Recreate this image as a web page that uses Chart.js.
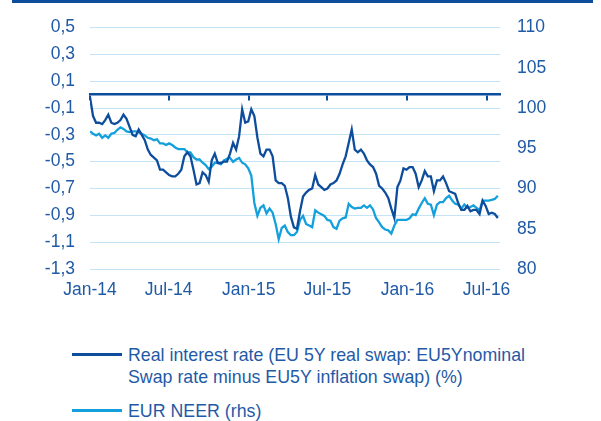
<!DOCTYPE html>
<html>
<head>
<meta charset="utf-8">
<script src="https://cdn.jsdelivr.net/npm/chart.js@4.4.1/dist/chart.umd.min.js"></script>
<style>
  body { margin: 0; background: #fff; width: 601px; height: 421px; position: relative; overflow: hidden; }
  #topline { position: absolute; left: 12px; top: 0; width: 581px; height: 2.5px; background: #0e4d9c; }
  #chart-01 { position: absolute; left: 0; top: 0; }
  .leg { position: absolute; left: 72px; font: 17.8px "Liberation Sans", Arial, sans-serif; line-height: 22px; color: #1f5aa6; white-space: pre-line; }
  .leg span.swatch { position: absolute; left: 0; top: 9.5px; width: 50px; height: 2.5px; }
  .leg span.txt { display: block; margin-left: 56px; }
</style>
</head>
<body>
<div id="topline"></div>
<canvas id="chart-01" width="601" height="310"></canvas>
<div id="legend"></div>
<script>
// weekly observations, first one = 1 Jan 2014 (x is days since then)
const realRate = [
  -0.02, -0.16, -0.21, -0.21, -0.22, -0.19, -0.15, -0.21, -0.22, -0.21,
  -0.19, -0.15, -0.18, -0.24, -0.30, -0.31, -0.26, -0.30, -0.34, -0.41,
  -0.45, -0.47, -0.49, -0.56, -0.56, -0.58, -0.60, -0.61, -0.61, -0.59,
  -0.56, -0.46, -0.43, -0.46, -0.56, -0.67, -0.66, -0.58, -0.60, -0.65,
  -0.49, -0.44, -0.51, -0.51, -0.50, -0.50, -0.44, -0.36, -0.41, -0.31,
  -0.11, -0.21, -0.20, -0.11, -0.16, -0.32, -0.44, -0.46, -0.41, -0.41,
  -0.46, -0.64, -0.66, -0.66, -0.68, -0.77, -0.91, -0.99, -1.00, -0.87,
  -0.76, -0.73, -0.71, -0.70, -0.60, -0.67, -0.69, -0.71, -0.70, -0.67,
  -0.66, -0.64, -0.59, -0.52, -0.46, -0.36, -0.26, -0.41, -0.43, -0.41,
  -0.44, -0.49, -0.52, -0.54, -0.59, -0.68, -0.70, -0.73, -0.77, -0.85,
  -0.92, -0.69, -0.64, -0.55, -0.56, -0.54, -0.54, -0.59, -0.69, -0.64,
  -0.57, -0.61, -0.61, -0.72, -0.64, -0.64, -0.61, -0.66, -0.72, -0.73,
  -0.74, -0.81, -0.86, -0.86, -0.83, -0.87, -0.86, -0.86, -0.89, -0.79,
  -0.83, -0.89, -0.88, -0.89, -0.92
];

const neer = [
  97.1, 96.8, 96.6, 96.8, 96.3, 96.6, 96.3, 96.8, 96.9, 97.3,
  97.6, 97.4, 97.1, 97.0, 97.1, 97.1, 97.0, 96.8, 96.6, 96.3,
  96.2, 96.0, 96.1, 95.6, 95.6, 95.4, 95.6, 95.4, 95.1, 94.9,
  94.9, 94.9, 94.5, 94.5, 93.9, 93.6, 93.6, 93.2, 92.9, 92.4,
  92.7, 93.2, 93.2, 93.0, 93.5, 93.7, 93.8, 93.3, 93.6, 93.8,
  93.2, 93.0, 92.5, 91.6, 88.2, 86.6, 87.6, 87.9, 86.9, 87.5,
  87.0, 85.6, 83.7, 85.1, 85.4, 84.6, 84.2, 84.2, 84.6, 86.1,
  86.6, 85.6, 85.4, 85.2, 87.3, 87.0, 86.8, 86.6, 86.1, 86.0,
  85.2, 85.0, 86.0, 86.3, 86.4, 88.1, 87.7, 87.5, 87.6, 87.6,
  87.9, 87.6, 87.9, 87.4, 86.3, 85.8, 85.2, 84.9, 84.8, 84.4,
  85.4, 86.1, 86.1, 86.1, 86.1, 86.3, 86.8, 86.7, 87.5, 88.2,
  88.8, 88.1, 88.0, 86.7, 88.0, 88.3, 88.3, 88.8, 89.1, 88.5,
  88.1, 88.0, 87.5, 88.0, 87.6, 87.7, 87.9, 87.6, 87.3, 88.5,
  88.5, 88.5, 88.6, 88.7, 89.1
];

// x-axis ticks (days since 1 Jan 2014)
const tickDays = [0, 181, 365, 546, 730, 912];
const tickLabels = ['Jan-14', 'Jul-14', 'Jan-15', 'Jul-15', 'Jan-16', 'Jul-16'];
const lastDay = 943;

const darkBlue = '#0e4d9c';
const lightBlue = '#13a0dc';
const textBlue = '#1f5aa6';
const gridBlue = '#c4e3f4';
const font = { family: '"Liberation Sans", Arial, sans-serif', size: 17.5 };

const toPoints = arr => arr.map((v, i) => ({ x: i * 7, y: v }));
const setTicks = scale => { scale.ticks = tickDays.map(v => ({ value: v })); };

const ctx = document.getElementById('chart-01').getContext('2d');

const chart_01 = new Chart(ctx, {
    type: 'line',
    data: {
        datasets: [{
            label: 'Real interest rate (EU 5Y real swap: EU5Ynominal\nSwap rate minus EU5Y inflation swap) (%)',
            data: toPoints(realRate),
            yAxisID: 'y',
            borderColor: darkBlue,
            borderWidth: 2.3,
            pointRadius: 0,
            tension: 0
        },
        {
            label: 'EUR NEER (rhs)',
            data: toPoints(neer),
            yAxisID: 'y1',
            borderColor: lightBlue,
            borderWidth: 2.3,
            pointRadius: 0,
            tension: 0
        }]
    },
    options: {
        responsive: false,
        animation: false,
        layout: { padding: { top: 17, left: 0, right: 0, bottom: 0 } },
        plugins: {
            legend: { display: false },
            tooltip: { enabled: false }
        },
        scales: {
            x: {
                type: 'linear',
                position: 'bottom',
                min: 0,
                max: lastDay,
                afterBuildTicks: setTicks,
                afterFit: scale => { scale.height = 41; },
                border: { display: false },
                grid: { display: false, drawTicks: false },
                ticks: {
                    padding: 11,
                    maxRotation: 0,
                    autoSkip: false,
                    color: textBlue,
                    font: font,
                    callback: (v, i) => tickLabels[i]
                }
            },
            xZero: {
                type: 'linear',
                axis: 'x',
                position: { y: 0 },
                min: 0,
                max: lastDay,
                afterBuildTicks: setTicks,
                border: { display: true, color: darkBlue, width: 2.5 },
                grid: {
                    display: true,
                    drawOnChartArea: false,
                    drawTicks: true,
                    tickLength: 5,
                    tickColor: darkBlue,
                    tickWidth: 2,
                    lineWidth: 2
                },
                ticks: { display: false }
            },
            y: {
                position: 'left',
                min: -1.3,
                max: 0.5,
                afterFit: scale => { scale.width = 90; },
                border: { display: false },
                grid: { color: gridBlue, lineWidth: 1, drawTicks: false },
                ticks: {
                    stepSize: 0.2,
                    padding: 15,
                    color: textBlue,
                    font: font,
                    callback: v => v.toFixed(1).replace('.', ',')
                }
            },
            y1: {
                position: 'right',
                min: 80,
                max: 110,
                afterFit: scale => { scale.width = 101; },
                border: { display: false },
                grid: { display: false, drawTicks: false },
                ticks: {
                    stepSize: 5,
                    padding: 17,
                    color: textBlue,
                    font: font
                }
            }
        }
    }
});

// html legend built from the datasets
const legendTops = [343.5, 399.5];
const legend = document.getElementById('legend');
chart_01.data.datasets.forEach((ds, i) => {
    const item = document.createElement('div');
    item.className = 'leg';
    item.style.top = legendTops[i] + 'px';
    const sw = document.createElement('span');
    sw.className = 'swatch';
    sw.style.background = ds.borderColor;
    const tx = document.createElement('span');
    tx.className = 'txt';
    tx.textContent = ds.label;
    item.appendChild(sw);
    item.appendChild(tx);
    legend.appendChild(item);
});
</script>
</body>
</html>
